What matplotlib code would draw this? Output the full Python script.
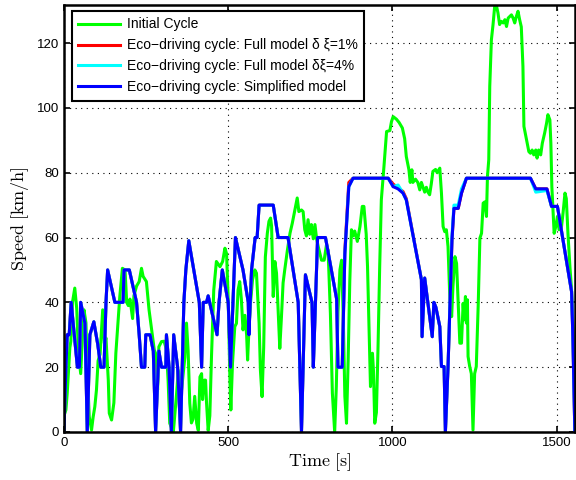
import matplotlib
matplotlib.use("Agg")
import matplotlib.pyplot as plt

# initial cycle (green)
t_init = [0, 6, 10, 18, 21, 26, 33, 39, 44, 51, 57, 61, 67, 71, 77, 84, 89, 94, 99, 104,
          110, 118, 123, 128, 135, 138, 145, 152, 158, 165, 170, 178, 186, 191, 196, 201, 209, 213, 221, 229,
          236, 241, 251, 259, 267, 275, 280, 285, 289, 297, 305, 312, 317, 322, 333, 338, 343, 348, 358, 368,
          373, 378, 383, 388, 393, 398, 404, 409, 414, 419, 422, 427, 431, 434, 439, 444, 449, 456, 464, 475,
          483, 490, 495, 500, 505, 508, 513, 520, 525, 530, 535, 540, 545, 551, 556, 559, 564, 568, 574, 581,
          586, 594, 598, 603, 608, 613, 619, 624, 629, 632, 637, 642, 647, 652, 657, 662, 667, 672, 680, 688,
          695, 703, 710, 715, 723, 728, 733, 738, 743, 748, 753, 759, 764, 769, 774, 784, 792, 799, 804, 811,
          817, 824, 829, 834, 840, 845, 850, 855, 860, 865, 870, 875, 880, 885, 893, 901, 908, 913, 920, 924,
          929, 933, 939, 942, 946, 951, 956, 961, 966, 974, 982, 992, 997, 1002, 1012, 1020, 1030, 1037, 1042, 1050,
          1054, 1059, 1062, 1070, 1077, 1083, 1088, 1093, 1098, 1103, 1108, 1113, 1118, 1123, 1131, 1136, 1144, 1149, 1154, 1159,
          1164, 1169, 1174, 1180, 1184, 1190, 1195, 1200, 1205, 1210, 1215, 1218, 1222, 1225, 1228, 1230, 1235, 1240, 1245, 1250,
          1255, 1261, 1266, 1271, 1276, 1281, 1286, 1289, 1293, 1296, 1301, 1306, 1311, 1316, 1321, 1326, 1331, 1337, 1342, 1347,
          1352, 1357, 1362, 1367, 1372, 1377, 1382, 1387, 1392, 1397, 1400, 1404, 1410, 1415, 1420, 1425, 1430, 1436, 1440, 1445,
          1451, 1456, 1463, 1469, 1473, 1479, 1482, 1485, 1489, 1492, 1497, 1502, 1507, 1514, 1519, 1525, 1529, 1534, 1540, 1545,
          1551, 1555]
v_init = [5, 6.8, 12, 26, 28, 40, 44.4, 38, 24.4, 18, 31, 37.7, 33.7, 19, 4.7, 0.6, 4.7, 7.8, 13, 22,
          24, 37.7, 27.4, 29, 16, 5.8, 3.7, 9, 24.3, 34.6, 41.8, 50.5, 50, 40, 39, 41, 35, 42, 45, 46.4,
          50.5, 48, 46.4, 37.7, 31.5, 25.3, 24, 13, 26.3, 27.9, 28, 25.3, 16, 2.7, 0, 6, 12, 19, 13, 23,
          33.6, 25, 8.9, 2.8, 4, 11, 2.7, 0.5, 17, 18, 10, 16, 16, 9, 0.5, 5, 23, 43.8, 52.6, 51,
          52.6, 56.7, 55, 40.8, 17, 6.8, 21.2, 32.5, 33.5, 43.8, 46.4, 41, 31.5, 36, 30, 22.2, 34, 40, 47, 50,
          49, 33.6, 19, 10.9, 26.3, 54, 61.3, 65, 66, 63.5, 41.8, 52.6, 49, 37, 25.8, 35.5, 46, 50, 56, 61.3,
          64.4, 68.5, 72.2, 68, 68.5, 68, 62.4, 60.5, 65.5, 61, 64, 59.6, 64, 59.6, 57.2, 53, 53, 57.7, 56, 36.6,
          12, 0, 14, 37, 50, 53, 36, 11, 2.7, 22, 46.5, 62.4, 60.5, 62, 58.8, 63.4, 69.6, 69.6, 61, 51,
          30.5, 14, 24.3, 19, 2.7, 6, 26.3, 51, 71.6, 81.9, 92.7, 93, 95.8, 97.3, 96.5, 95.5, 93.8, 90.5, 85, 80.9,
          77, 80.9, 77, 78, 77, 74.7, 77, 75.5, 74, 75.5, 74, 73.2, 76.5, 80.4, 81, 80, 81.4, 73.7, 63.4, 61.8,
          62.4, 57.2, 42.8, 35.6, 44.9, 54.1, 52, 39.7, 27.4, 27.4, 39.7, 34.6, 41.8, 33.6, 40.8, 23.3, 20.2, 18, 0.6, 18,
          20.2, 39.7, 59.8, 61.3, 70.6, 71, 66.5, 78.8, 84, 106.6, 121, 125.7, 131.3, 131.7, 129.3, 125.7, 126.7, 126.2, 127.2, 125.1,
          127.7, 128.2, 128.7, 127.7, 126.2, 128.2, 129.8, 127.2, 125, 112.8, 94.3, 92.2, 89.1, 86.5, 86, 87, 85.5, 87, 84.5, 87,
          85.5, 89.1, 92.2, 95.3, 97.9, 96.3, 89.1, 75.7, 67.5, 61.3, 63.4, 66.5, 62.4, 63, 67.5, 73.7, 72, 61.3, 51, 43.8,
          27.4, 12]

# eco-driving cycles (shared time axis)
t_eco = [0, 6, 10, 16, 22, 41, 47, 51, 64, 71, 79, 91, 103, 112, 122, 128, 133, 155, 180, 183,
         199, 221, 229, 236, 246, 249, 262, 272, 279, 289, 297, 310, 312, 320, 327, 334, 346, 355, 365, 371,
         380, 412, 419, 424, 434, 439, 466, 472, 482, 500, 507, 522, 545, 561, 563, 571, 582, 588, 594, 637,
         652, 682, 713, 723, 735, 755, 759, 762, 772, 796, 830, 834, 847, 855, 867, 880, 987, 1002, 1017, 1032,
         1042, 1088, 1090, 1098, 1121, 1126, 1132, 1144, 1149, 1157, 1161, 1169, 1181, 1187, 1200, 1210, 1225, 1420, 1436, 1470,
         1484, 1502, 1545, 1549, 1555]
v_simple = [0, 20, 30, 30, 40, 20, 20, 40, 33.5, 0, 30, 34, 27, 20, 20, 40, 50, 40, 40, 50,
            50, 40, 30, 20, 20, 30, 30, 25, 0, 25, 20, 20, 30, 20, 0, 30, 20, 0, 40, 50,
            59, 40, 20, 40, 40, 42, 30, 40, 50, 40, 20, 60, 50, 40, 30, 50, 60, 60, 70, 70,
            60, 60, 40, 0, 48.5, 40, 20, 29, 60, 60, 41, 20, 20, 55, 75.7, 78.3, 78.3, 75.7, 75, 73.7,
            71.6, 47, 29.4, 47.5, 29.4, 40, 38.5, 32.5, 20.2, 20.2, 0, 20, 59.3, 69, 69, 73.7, 78.3, 78.3, 75, 75,
            69.6, 69.6, 43.3, 29.4, 0]
v_full1 = [0, 20, 30, 30, 40, 20, 20, 40, 33.5, 0, 30, 34, 27, 20, 20, 40, 50, 40, 40, 50,
           50, 40, 30, 20, 20, 30, 30, 25, 0, 25, 20, 20, 30, 20, 0, 30, 20, 0, 40, 50,
           59, 40, 20, 40, 40, 42, 30, 40, 50, 40, 20, 60, 50, 40, 30, 50, 60, 60, 70, 70,
           60, 60, 40, 0, 48.5, 40, 20, 29, 60, 60, 41, 20, 20, 56, 77, 78.3, 78.3, 76.5, 75.3, 74.2,
           72, 47, 29.4, 47.5, 29.4, 40, 38.5, 32.5, 20.2, 20.2, 0, 20, 59.3, 69, 69, 73.7, 78.3, 78.3, 75, 75,
           69.6, 69.6, 43.3, 29.4, 0]
v_full4 = [0, 20, 30, 30, 40, 20, 20, 40, 33.5, 0, 30, 34, 27, 20, 20, 40, 50, 40, 40, 50,
           50, 40, 30, 20, 20, 30, 30, 25, 0, 25, 20, 20, 30, 20, 0, 30, 20, 0, 40, 50,
           59, 40, 20, 40, 40, 42, 30, 40, 50, 40, 20, 60, 50, 40, 30, 50, 60, 60, 70, 70,
           60, 60, 40, 0, 48.5, 40, 20, 29, 60, 60, 41, 20, 20, 55, 75.7, 78.3, 78.3, 75.7, 76.2, 73.7,
           71.6, 47, 29.4, 47.5, 29.4, 40, 38.5, 32.5, 20.2, 20.2, 0, 20, 60.5, 70, 70, 75, 78.3, 78.3, 74, 74.5,
           69.6, 69.6, 43.3, 29.4, 0]

plt.rcParams['font.family'] = ['Liberation Sans', 'DejaVu Sans']
plt.rcParams['mathtext.fontset'] = 'cm'

fig = plt.figure(figsize=(5.76, 4.8), dpi=100)
ax = fig.add_axes([0.111, 0.1, 0.887, 0.89])

ax.plot(t_init, v_init, color='#00ff00', lw=2.2, label='Initial Cycle')
ax.plot(t_eco, v_full1, color='#ff0000', lw=2.2, label='Eco\u2212driving cycle: Full model \u03b4 \u03be=1%')
ax.plot(t_eco, v_full4, color='#00ffff', lw=2.2, label='Eco\u2212driving cycle: Full model \u03b4\u03be=4%')
ax.plot(t_eco, v_simple, color='#0000ff', lw=2.2, label='Eco\u2212driving cycle: Simplified model')

ax.set_xlim(0, 1555)
ax.set_ylim(0, 131.8)
ax.set_xticks([0, 500, 1000, 1500])
ax.set_yticks([0, 20, 40, 60, 80, 100, 120])
ax.grid(True, color='black', linestyle=(0, (1, 4)), linewidth=0.8)
ax.tick_params(direction='in', top=True, right=True, labelsize=9.5, length=4, width=1.2)
for s in ax.spines.values():
    s.set_linewidth(1.8)

ax.set_xlabel(r'$\mathrm{Time\ [s]}$', fontsize=13, labelpad=2)
ax.set_ylabel(r'$\mathrm{Speed\ [km/h]}$', fontsize=13, labelpad=4)

leg = ax.legend(loc='upper left', bbox_to_anchor=(0.016, 0.985), borderaxespad=0,
                fontsize=10, handlelength=3.0, handletextpad=0.5, labelspacing=0.5,
                fancybox=False, framealpha=1, edgecolor='black', borderpad=0.45)
leg.get_frame().set_linewidth(1.5)

fig.savefig('out.png', dpi=100)
